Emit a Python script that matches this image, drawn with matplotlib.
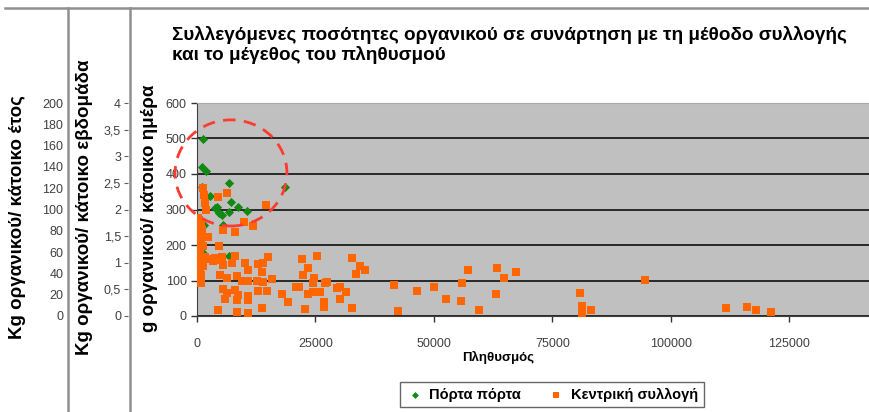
import matplotlib.pyplot as plt
from matplotlib.patches import Ellipse
from matplotlib.lines import Line2D
from matplotlib.ticker import FixedLocator, FuncFormatter

plt.rcParams['font.family'] = ['Liberation Sans', 'DejaVu Sans']

# ------------------------------------
# DADOS
# ------------------------------------

# Πόρτα πόρτα
pop_pp = [1200, 990, 1900, 990, 6810, 18550, 2740, 3790, 4150, 4640, 5210,
          6810, 7170, 8710, 10480, 1480, 5540, 1200, 6810]
g_pp = [499, 421, 408, 363, 375, 364, 338, 303, 308, 291, 285,
        293, 322, 306, 297, 256, 256, 178, 169]

# Κεντρική συλλογή
pop_kc = [300, 800, 400, 1100, 200, 900, 500, 1300, 300, 700, 1000, 400, 1200, 600, 200, 900,
          1330, 1500, 1690, 1830, 4500, 6400, 14550, 500, 600, 2390, 5550, 8010, 9970, 11870,
          4700, 1690, 2740, 3790, 4850, 780,
          3440, 5200, 5550, 7310, 8010, 10120, 10820, 12930, 13990, 15040, 13640, 15740,
          4850, 6260, 8370, 9420, 10820, 12580, 13990,
          5550, 6260, 8010, 8710, 10820, 12930, 14690, 17850,
          5900, 8370, 10820, 13640, 4490, 8370, 10820,
          19250, 20870, 21560, 22070, 23470, 22420, 24730, 24520, 23470, 24520, 25930,
          22770, 25370, 26980, 27330, 29580, 30150, 31410, 30150, 26840, 26840, 32740,
          32600, 33450, 34360, 35410, 41590, 42310, 46520, 49960, 52490, 55790, 55930,
          57190, 59450, 63300, 63030, 64720, 67390, 80880, 81300, 81300, 83050, 94500,
          111720, 116090, 117990, 121060]
g_kc = [276, 265, 254, 242, 231, 220, 208, 197, 186, 175, 163, 152, 141, 130, 120, 115,
        360, 341, 317, 299, 334, 346, 313, 270, 252, 223, 242, 237, 264, 254,
        198, 166, 161, 163, 158, 92,
        156, 167, 144, 148, 169, 148, 130, 146, 150, 167, 125, 103,
        115, 108, 112, 100, 98, 100, 96,
        75, 66, 72, 58, 55, 70, 70, 62,
        48, 44, 46, 23, 17, 12, 8,
        40, 81, 83, 161, 134, 115, 106, 92, 62, 68, 68,
        20, 170, 92, 97, 78, 83, 68, 48, 40, 26, 23,
        162, 117, 142, 130, 87, 15, 70, 81, 47, 41, 92,
        130, 17, 136, 62, 106, 124, 65, 28, 8, 16, 101,
        23, 25, 17, 10]

y_ticks = [0, 100, 200, 300, 400, 500, 600]
x_ticks = [0, 25000, 50000, 75000, 100000, 125000]
week_ticks = [0, 0.5, 1, 1.5, 2, 2.5, 3, 3.5, 4]
year_ticks = [0, 20, 40, 60, 80, 100, 120, 140, 160, 180, 200]

W, H = 870, 412
tick_color = '#404040'

# ------------------------------------
# FIGURA
# ------------------------------------
fig = plt.figure(figsize=(W / 100, H / 100), dpi=100)
ax = fig.add_axes([197 / W, 1 - 316 / H, 673 / W, 213 / H])
ax.set_facecolor('#c0c0c0')

ax.scatter(pop_pp, g_pp, marker='D', s=22, color='#108a10', linewidths=0, zorder=3,
           label='Πόρτα πόρτα')
ax.scatter(pop_kc, g_kc, marker='s', s=36, color='#ff6600', linewidths=0, zorder=4,
           label='Κεντρική συλλογή')

ax.set_xlim(0, 142000)
ax.set_ylim(0, 600)
ax.set_xticks(x_ticks)
ax.set_yticks(y_ticks)
ax.yaxis.grid(True, color='#000000', lw=1.1)
ax.set_axisbelow(True)
ax.tick_params(labelsize=9, colors='#333333', length=4, width=1, labelcolor=tick_color)
ax.tick_params(axis='x', pad=12)
ax.spines['right'].set_visible(False)
ax.spines['top'].set_color('#a8a8a8')
ax.spines['left'].set_color('#404040')
ax.spines['bottom'].set_color('#404040')

# eixos secundários (kg/εβδομάδα e kg/έτος)
week = ax.secondary_yaxis((128 - 197) / 673, functions=(lambda y: y / 150, lambda w: w * 150))
week.yaxis.set_major_locator(FixedLocator(week_ticks))
week.yaxis.set_major_formatter(FuncFormatter(lambda v, p: f"{v:g}".replace('.', ',')))
week.spines['left'].set_visible(False)
week.tick_params(labelsize=9, length=3, colors='#606060', labelcolor=tick_color, pad=2)

year = ax.secondary_yaxis((66 - 197) / 673, functions=(lambda y: y / 3, lambda k: k * 3))
year.yaxis.set_major_locator(FixedLocator(year_ticks))
year.spines['left'].set_visible(False)
year.tick_params(labelsize=9, length=0, labelcolor=tick_color, pad=2)

# κύκλος
circ = Ellipse((7170, 403), 23600, 299, fill=False, ec='#ff3b30', lw=2,
               linestyle=(0, (4.5, 3)), clip_on=False, zorder=6)
ax.add_patch(circ)

# textos
fig.text(172 / W, 1 - 45 / H,
         'Συλλεγόμενες ποσότητες οργανικού σε συνάρτηση με τη μέθοδο συλλογής\n'
         'και το μέγεθος του πληθυσμού',
         fontsize=13.6, fontweight='bold', ha='left', va='center', linespacing=1.15)
fig.text(150 / W, 1 - 208 / H, 'g οργανικού/ κάτοικο ημέρα', rotation=90,
         fontsize=13.5, fontweight='bold', ha='center', va='center')
fig.text(85 / W, 1 - 207 / H, 'Kg οργανικού/ κάτοικο εβδομάδα', rotation=90,
         fontsize=13.5, fontweight='bold', ha='center', va='center')
fig.text(18 / W, 1 - 217 / H, 'Kg οργανικού/ κάτοικο έτος', rotation=90,
         fontsize=13.5, fontweight='bold', ha='center', va='center')
fig.text(498 / W, 1 - 357 / H, 'Πληθυσμός', fontsize=9.5, fontweight='bold',
         ha='center', va='center')

# linhas da moldura
fig.add_artist(Line2D([5 / W, 1], [1 - 8 / H] * 2, color='#909090', lw=1.8))
fig.add_artist(Line2D([68 / W] * 2, [0, 1 - 8 / H], color='#909090', lw=1.8))
fig.add_artist(Line2D([130 / W] * 2, [0, 1 - 8 / H], color='#909090', lw=1.8))

leg = fig.legend(loc='center', bbox_to_anchor=(552 / W, 1 - 394.5 / H), ncol=2,
                 fancybox=False, edgecolor='#404040', fontsize=10.5, handletextpad=0.4,
                 columnspacing=1.8, borderpad=0.4, markerscale=0.75, handlelength=1.2)
for t in leg.get_texts():
    t.set_fontweight('bold')
leg.get_frame().set_linewidth(1)

plt.savefig('out.png', dpi=100)
